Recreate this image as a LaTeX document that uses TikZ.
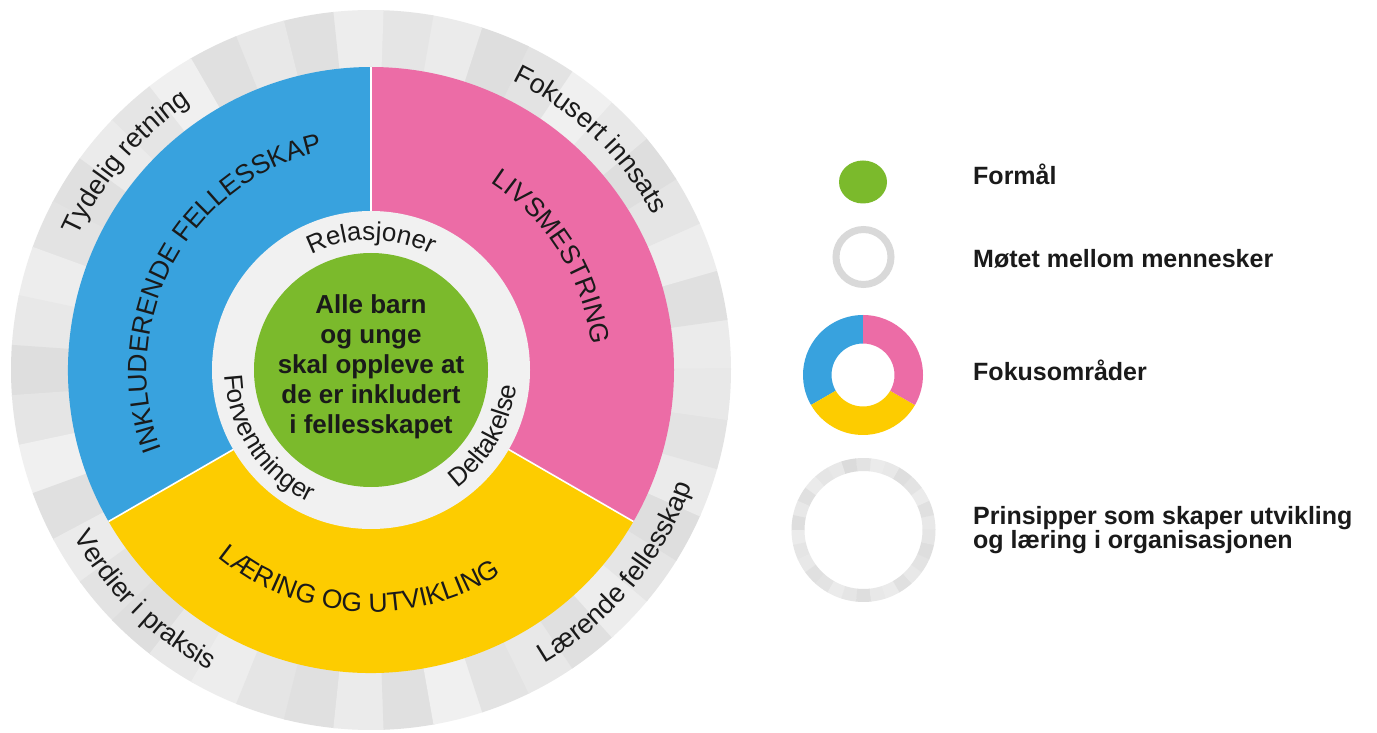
\documentclass[tikz,border=0pt]{standalone}
\usepackage{fontspec}
\setmainfont{Liberation Sans}
\usetikzlibrary{decorations.text}
\definecolor{cblue}{HTML}{38A2DE}
\definecolor{cpink}{HTML}{EC6CA6}
\definecolor{cyellow}{HTML}{FDCC00}
\definecolor{cgreen}{HTML}{7BBA2C}
\definecolor{cinner}{HTML}{F1F1F1}
\definecolor{clegring}{HTML}{D9D9D9}
\definecolor{txt}{HTML}{1A1A1A}
\newcommand\ringsector[6][C]{%
  \fill[#2] ([shift={(#3:#5)}]#1) arc[start angle=#3, end angle=#4, radius=#5]
    -- ([shift={(#4:#6)}]#1) arc[start angle=#4, end angle=#3, radius=#6] -- cycle;}
\newcommand\fsOuter{\fontsize{27}{27}\selectfont\color{txt}}
\newcommand\fsRing{\fontsize{26.5}{26.5}\selectfont\color{txt}}
\newcommand\fsInner{\fontsize{26}{26}\selectfont\color{txt}}
\tikzset{
  curvetext/.style={decorate, decoration={text along path, text align=center, text={#1}}},
  legtext/.style={anchor=base west, inner sep=0pt, text=txt, font=\bfseries\fontsize{25}{23.5}\selectfont, align=left},
}
\begin{document}
\begin{tikzpicture}[x=1pt,y=1pt]
\useasboundingbox (0,0) rectangle (1377,732);
\fill[white] (0,0) rectangle (1377,732);
\coordinate (C) at (371,362);
% outer segmented ring
\foreach \g [count=\i from 0] in {8,12,7,10,13,9,6,11,13,8,10,7,12,9,12,6,10,8,12,11,7,9,13,10,6,12,8,11,13,9,7,10,12,8,12,6,11,9,12,7,10,13,8,11,9}{
  \pgfmathsetmacro\aa{\i*8}\pgfmathsetmacro\bb{\i*8+8.3}
  \ringsector{black!\g}{\aa}{\bb}{302}{360}
}
% coloured sectors
\ringsector{cblue}{90}{210}{150}{303}
\ringsector{cyellow}{210}{330}{150}{303}
\ringsector{cpink}{-30}{90}{150}{303}
\foreach \ang in {90,210,330}{
  \draw[white, line width=1.6pt] ([shift={(\ang:155)}]C) -- ([shift={(\ang:303)}]C);
}
\fill[cinner] (C) circle[radius=159];
\fill[cgreen] (C) circle[radius=117];
\node[font=\bfseries\fontsize{26}{30}\selectfont, align=center, text=txt, inner sep=0pt] (goal) at (371,365.3)
  {Alle barn\\og unge\\skal oppleve at\\de er inkludert\\i fellesskapet};
% outer ring texts
\path[curvetext={|\fsOuter|Tydelig retning}] ([shift={(209.8:322)}]C) arc[start angle=209.8, end angle=69.8, radius=322];
\path[curvetext={|\fsOuter|Fokusert innsats}] ([shift={(116.3:322)}]C) arc[start angle=116.3, end angle=-23.7, radius=322];
\path[curvetext={|\fsOuter|Verdier i praksis}] ([shift={(155.5:341)}]C) arc[start angle=155.5, end angle=295.5, radius=341];
\path[curvetext={|\fsOuter|Lærende fellesskap}] ([shift={(250.4:341)}]C) arc[start angle=250.4, end angle=390.4, radius=341];
% coloured ring texts
\path[curvetext={|\fsRing|INKLUDERENDE FELLESSKAP}] ([shift={(221.6:224)}]C) arc[start angle=221.6, end angle=81.6, radius=224];
\path[curvetext={|\fsRing|LIVSMESTRING}] ([shift={(101.9:222)}]C) arc[start angle=101.9, end angle=-38.1, radius=222];
\path[curvetext={|\fsRing|LÆRING OG UTVIKLING}] ([shift={(196.7:242)}]C) arc[start angle=196.7, end angle=336.7, radius=242];
% inner ring texts
\path[curvetext={|\fsInner|Relasjoner}] ([shift={(160:130)}]C) arc[start angle=160, end angle=20, radius=130];
\path[curvetext={|\fsInner|Forventninger}] ([shift={(143.5:146)}]C) arc[start angle=143.5, end angle=283.5, radius=146];
\path[curvetext={|\fsInner|Deltakelse}] ([shift={(260:146)}]C) arc[start angle=260, end angle=400, radius=146];
% legend
\fill[cgreen] (863,550) ellipse[x radius=24, y radius=21.5];
\draw[clegring, line width=7pt] (863.5,475) circle[radius=27.5];
\coordinate (D) at (863,357);
\ringsector[D]{cblue}{90}{210}{31.5}{60}
\ringsector[D]{cyellow}{210}{330}{31.5}{60}
\ringsector[D]{cpink}{-30}{90}{31.5}{60}
\coordinate (E) at (863.5,202);
\foreach \g [count=\i from 0] in {9,12,8,11,13,9,8,11,14,9,10,8,12,9,13,8,10,9,12,11,8,10,13,9,8,12,9,11,13,10}{
  \pgfmathsetmacro\aa{\i*12}\pgfmathsetmacro\bb{\i*12+12.3}
  \ringsector[E]{black!\g}{\aa}{\bb}{59}{72}
}
\node[legtext] (l1) at (973,547) {Formål};
\node[legtext] (l2) at (973,464) {Møtet mellom mennesker};
\node[legtext] (l3) at (973,351) {Fokusområder};
\node[legtext] (l4) at (973,184) {Prinsipper som skaper utvikling\\og læring i organisasjonen};
\end{tikzpicture}
\end{document}
